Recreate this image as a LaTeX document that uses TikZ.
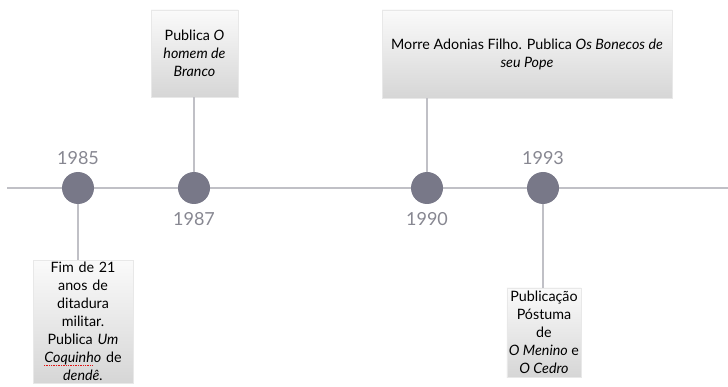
\documentclass[tikz,border=0pt]{standalone}
\usepackage{fontspec}
\setmainfont{Lato}
\usetikzlibrary{positioning}
\definecolor{lineg}{RGB}{192,192,198}
\definecolor{dotg}{RGB}{120,120,136}
\definecolor{yrg}{RGB}{135,135,145}
\definecolor{boxtop}{RGB}{250,250,250}
\definecolor{boxbot}{RGB}{214,214,214}
\definecolor{boxedge}{RGB}{232,232,232}
\definecolor{typored}{RGB}{225,20,20}

\begin{document}
\begin{tikzpicture}[x=1pt,y=-1pt]
\tikzset{
  axis/.style={line width=2pt, draw=lineg},
  dot/.style={circle, fill=dotg, minimum size=32pt, inner sep=0pt},
  yr/.style={text=yrg, font=\fontsize{18}{20}\selectfont, inner sep=2pt},
  evt/.style={draw=boxedge, line width=0.6pt, top color=boxtop, bottom color=boxbot,
    align=center, font=\fontsize{14.3}{18}\selectfont, inner xsep=2pt, inner ysep=2pt},
  lnk/.style={line width=1.5pt, draw=lineg},
  typo/.style={draw=typored, line width=1pt, dash pattern=on 1pt off 0.7pt}
}
\useasboundingbox (0,0) rectangle (728,387);
% ---------- time line ----------
\coordinate (tl0) at (7,188);
\coordinate (tl1) at (728,188);
\draw[axis] (tl0) -- (tl1);
\node[dot] (d85) at (78,188) {};
\node[dot] (d87) at (194,188) {};
\node[dot] (d90) at (427,188) {};
\node[dot] (d93) at (543,188) {};
\node[yr, above=5pt of d85] (y85) {1985};
\node[yr, below=6pt of d87] (y87) {1987};
\node[yr, below=6pt of d90] (y90) {1990};
\node[yr, above=5pt of d93] (y93) {1993};
% ---------- events ----------
\node[evt, anchor=north, text width=96pt, minimum width=100pt] (b85) at (83,260)
  {Fim de 21\\ anos de\\ ditadura\\ militar.\\ Publica \textit{Um}\\ \textit{Coquinho} de\\ \textit{dendê.}};
\node[evt, minimum width=87pt, minimum height=87pt] (b87) at (194.5,53.5)
  {Publica \textit{O}\\ \textit{homem de}\\ \textit{Branco}};
\node[evt, minimum width=290pt, minimum height=88pt] (b90) at (527,54)
  {Morre Adonias Filho. Publica \textit{Os Bonecos de}\\ \textit{seu Pope}};
\node[evt, minimum width=72pt, minimum height=89pt] (b93) at (544,332.5)
  {Publicação\\ Póstuma\\ de\\ \textit{O Menino} e\\ \textit{O Cedro}};
\draw[typo] (44,365.5) -- (92,365.5);
% ---------- links ----------
\draw[lnk] (d85.south) -- (d85.south |- b85.north);
\draw[lnk] (d87.north) -- (d87.north |- b87.south);
\draw[lnk] (d90.north) -- (d90.north |- b90.south);
\draw[lnk] (d93.south) -- (d93.south |- b93.north);
\end{tikzpicture}
\end{document}
